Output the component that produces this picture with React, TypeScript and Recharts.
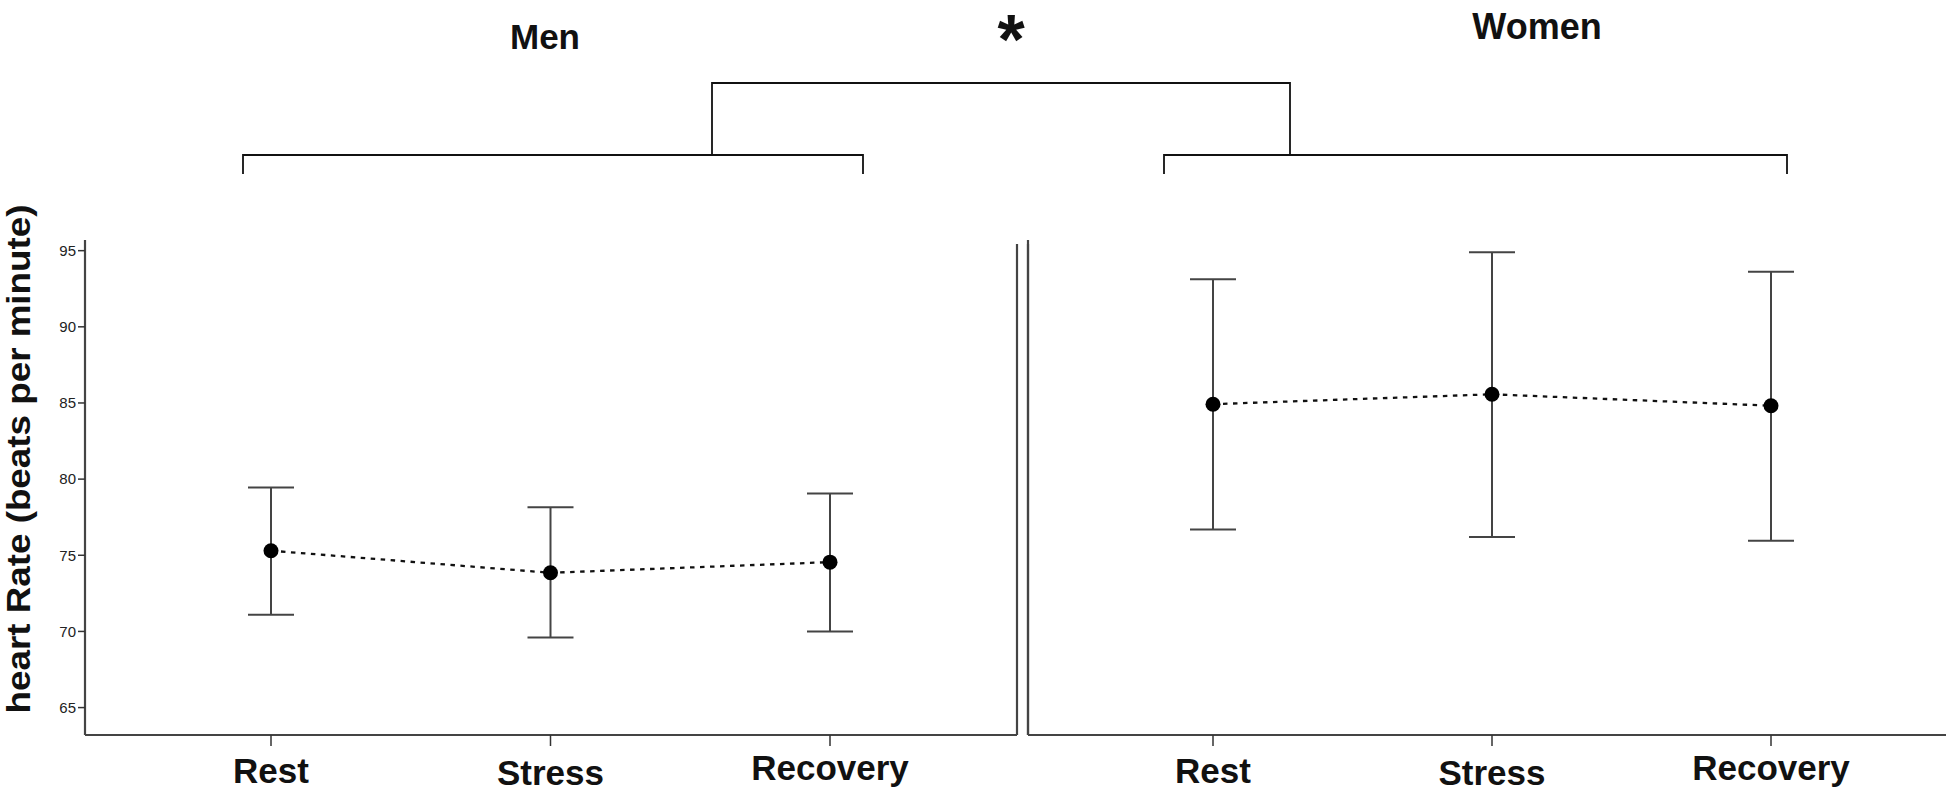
import React from 'react'
import { ComposedChart, Line, XAxis, YAxis, ErrorBar } from 'recharts'

const conditions = ['Rest', 'Stress', 'Recovery']

const menMean = [75.3, 73.85, 74.55]
const menUpper = [79.45, 78.15, 79.05]
const menLower = [71.1, 69.6, 70.0]

const womenMean = [84.92, 85.57, 84.82]
const womenUpper = [93.13, 94.9, 93.62]
const womenLower = [76.7, 76.2, 75.96]

const yTicks = [65, 70, 75, 80, 85, 90, 95]

const W = 1946
const H = 792
const FONT = "'Liberation Sans', Arial, Helvetica, sans-serif"
const Y_DOMAIN: [number, number] = [63.2, 95.7]

const buildRows = (mean: number[], upper: number[], lower: number[]) =>
  conditions.map((c, i) => ({
    condition: c,
    mean: mean[i],
    err: [mean[i] - lower[i], upper[i] - mean[i]],
  }))

const menRows = buildRows(menMean, menUpper, menLower)
const womenRows = buildRows(womenMean, womenUpper, womenLower)

// labels in the original sit at slightly different heights
const labelShift: Record<string, number> = { Rest: 0, Stress: 2, Recovery: -3 }

const CategoryTick = (props: any) => {
  const { x, y, payload } = props
  return (
    <text
      x={x}
      y={y + 35 + (labelShift[payload.value] || 0)}
      textAnchor="middle"
      fontFamily={FONT}
      fontWeight="bold"
      fontSize={35}
      fill="#111"
    >
      {payload.value}
    </text>
  )
}

const axisLine = { stroke: '#444', strokeWidth: 2.2 }

function Series() {
  return (
    <Line
      dataKey="mean"
      type="linear"
      stroke="#111"
      strokeWidth={2.3}
      strokeDasharray="4.5 5.5"
      dot={{ r: 7.5, fill: '#000', stroke: 'none' }}
      activeDot={false}
      isAnimationActive={false}
    >
      <ErrorBar dataKey="err" direction="y" width={23} stroke="#444" strokeWidth={2} />
    </Line>
  )
}

export default function App() {
  return (
    <div style={{ position: 'absolute', left: 0, top: 0, width: W, height: H, background: '#fff' }}>
      {/* Men panel */}
      <div style={{ position: 'absolute', left: 0, top: 0 }}>
        <ComposedChart width={1030} height={H} data={menRows} margin={{ top: 240, right: 13, bottom: 27, left: 0 }}>
          <XAxis
            dataKey="condition"
            scale="point"
            padding={{ left: 186, right: 187 }}
            interval={0}
            tickSize={11}
            axisLine={axisLine}
            tickLine={{ stroke: '#333', strokeWidth: 1.5 }}
            tick={<CategoryTick />}
          />
          <YAxis
            domain={Y_DOMAIN}
            ticks={yTicks}
            allowDataOverflow
            width={85}
            tickSize={7}
            axisLine={axisLine}
            tickLine={{ stroke: '#333', strokeWidth: 1.5 }}
            tick={{ fontSize: 15, fill: '#222', fontFamily: FONT }}
          />
          {Series()}
        </ComposedChart>
      </div>

      {/* Women panel */}
      <div style={{ position: 'absolute', left: 0, top: 0 }}>
        <ComposedChart width={W} height={H} data={womenRows} margin={{ top: 240, right: 0, bottom: 27, left: 1027 }}>
          <XAxis
            dataKey="condition"
            scale="point"
            padding={{ left: 185, right: 175 }}
            interval={0}
            tickSize={11}
            axisLine={axisLine}
            tickLine={{ stroke: '#333', strokeWidth: 1.5 }}
            tick={<CategoryTick />}
          />
          <YAxis domain={Y_DOMAIN} allowDataOverflow width={1} tick={false} tickLine={false} axisLine={axisLine} />
          {Series()}
        </ComposedChart>
      </div>

      {/* panel dividers, group labels, brackets and axis title */}
      <svg width={W} height={H} style={{ position: 'absolute', left: 0, top: 0, pointerEvents: 'none' }}>
        <g stroke="#444" strokeWidth={2.2}>
          <line x1={1017} y1={244} x2={1017} y2={735} />
          <line x1={1028} y1={244} x2={1028} y2={735} />
        </g>
        <g stroke="#111" strokeWidth={1.8} fill="none">
          <polyline points="712,155 712,83 1290,83 1290,155" />
          <polyline points="243,174 243,155 863,155 863,174" />
          <polyline points="1164,174 1164,155 1787,155 1787,174" />
        </g>
        <text x={545} y={49} textAnchor="middle" fontFamily={FONT} fontWeight="bold" fontSize={35} fill="#111">
          Men
        </text>
        <text x={1537} y={39} textAnchor="middle" fontFamily={FONT} fontWeight="bold" fontSize={36} fill="#111">
          Women
        </text>
        <text x={1011} y={64} textAnchor="middle" fontFamily={FONT} fontWeight="bold" fontSize={70} fill="#111">
          *
        </text>
        <text
          x={30}
          y={459}
          transform="rotate(-90 30 459)"
          textAnchor="middle"
          fontFamily={FONT}
          fontWeight="bold"
          fontSize={33}
          textLength={509}
          lengthAdjust="spacingAndGlyphs"
          fill="#111"
        >
          heart Rate (beats per minute)
        </text>
      </svg>
    </div>
  )
}
